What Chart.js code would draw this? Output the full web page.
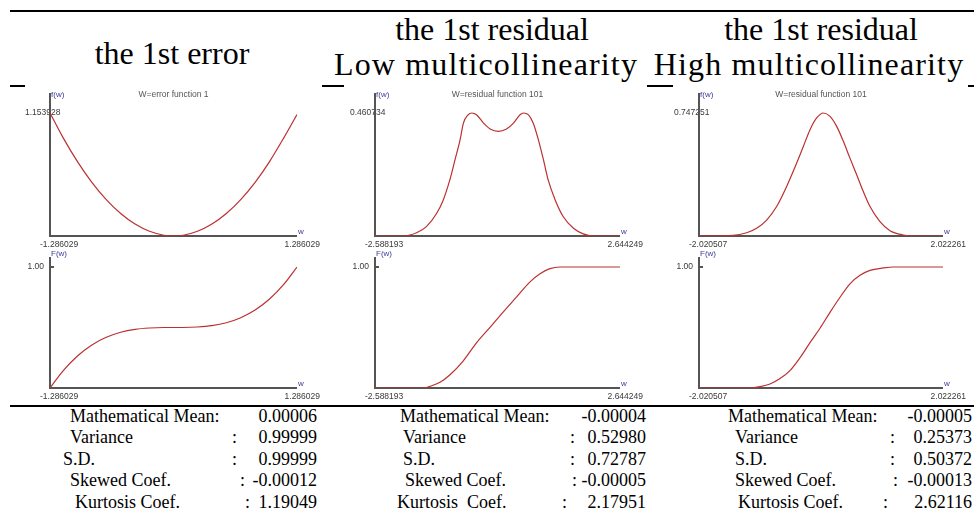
<!DOCTYPE html>
<html>
<head>
<meta charset="utf-8">
<script src="https://cdn.jsdelivr.net/npm/chart.js@4.4.1/dist/chart.umd.min.js"></script>
<style>
  html, body { margin: 0; padding: 0; background: #fff; }
  body { width: 974px; height: 513px; position: relative; overflow: hidden;
         font-family: "Liberation Serif", "Times New Roman", serif; color: #000; }
  .rule { position: absolute; left: 10px; width: 964px; height: 2px; background: #000; }
  .head { position: absolute; width: 400px; font-size: 32px; line-height: 35px;
          text-align: center; white-space: nowrap; }
  .head.wide { letter-spacing: 1.15px; }
  .panel { position: absolute; top: 84px; height: 321px; background: #fff; }
  .panel canvas { position: absolute; left: 0; }
  .stat { position: absolute; font-size: 18px; line-height: 18px; white-space: pre; }
</style>
</head>
<body>
<div class="rule" style="top:10px"></div>
<div class="rule" style="top:85px"></div>
<div class="rule" style="top:405px"></div>

<script>
// column headings
const headers = [
  ['the 1st error'],
  ['the 1st residual', 'Low multicollinearity'],
  ['the 1st residual', 'High multicollinearity']
];

// density f(w) and distribution F(w) per column
const pdfW1 = [-1.286029, -1.15, -1.0, -0.85, -0.7, -0.55, -0.4, -0.25, -0.1, 0, 0.1, 0.25, 0.4, 0.55, 0.7, 0.85, 1.0, 1.15, 1.286029];
const pdfF1 = [1.153928, 0.923, 0.698, 0.504, 0.342, 0.211, 0.112, 0.044, 0.007, 0, 0.007, 0.044, 0.112, 0.211, 0.342, 0.504, 0.698, 0.923, 1.14];
const cdfW1 = pdfW1;
const cdfF1 = [0, 0.142, 0.265, 0.356, 0.419, 0.461, 0.485, 0.496, 0.5, 0.5, 0.5, 0.504, 0.515, 0.539, 0.581, 0.644, 0.735, 0.858, 1.0];

const pdfW2 = [-2.588193, -1.98, -1.70, -1.49, -1.27, -1.13, -0.99, -0.88, -0.77, -0.70, -0.60, -0.52, -0.42, -0.27, -0.13, 0.05, 0.22, 0.37, 0.51, 0.58, 0.69, 0.79, 0.90, 1.01, 1.11, 1.26, 1.43, 1.65, 1.86, 2.07, 2.644249];
const pdfF2 = [0, 0, 0.012, 0.035, 0.085, 0.135, 0.210, 0.285, 0.361, 0.423, 0.454, 0.460734, 0.454, 0.423, 0.401, 0.392, 0.401, 0.423, 0.454, 0.460734, 0.454, 0.423, 0.361, 0.285, 0.210, 0.135, 0.073, 0.029, 0.008, 0, 0];
const cdfW2 = [-2.588193, -1.556, -1.413, -1.200, -0.986, -0.702, -0.417, -0.132, 0.153, 0.437, 0.722, 0.936, 1.149, 1.363, 1.576, 2.644249];
const cdfF2 = [0, 0, 0.014, 0.047, 0.110, 0.225, 0.375, 0.501, 0.630, 0.753, 0.877, 0.945, 0.986, 1.0, 1.0, 1.0];

const pdfW3 = [-2.020507, -1.452, -1.231, -1.065, -0.899, -0.734, -0.568, -0.402, -0.292, -0.181, -0.071, 0.040, 0.150, 0.261, 0.371, 0.481, 0.592, 0.702, 0.813, 0.978, 1.144, 1.365, 1.531, 2.022261];
const pdfF3 = [0, 0.004, 0.020, 0.047, 0.097, 0.179, 0.301, 0.443, 0.544, 0.646, 0.717, 0.747251, 0.727, 0.666, 0.575, 0.473, 0.372, 0.270, 0.179, 0.087, 0.032, 0.006, 0, 0];
const cdfW3 = [-2.020507, -1.176, -1.010, -0.844, -0.678, -0.513, -0.347, -0.181, -0.016, 0.150, 0.316, 0.481, 0.647, 0.813, 1.034, 1.199, 2.022261];
const cdfF3 = [0, 0, 0.011, 0.033, 0.078, 0.144, 0.25, 0.375, 0.494, 0.625, 0.75, 0.861, 0.931, 0.972, 0.992, 1.0, 1.0];

// axis end labels
const xTicks1 = ['-1.286029', '1.286029'];
const xTicks2 = ['-2.588193', '2.644249'];
const xTicks3 = ['-2.020507', '2.022261'];
const peakTicks = ['1.153928', '0.460734', '0.747251'];
const peakValues = [1.153928, 0.460734, 0.747251];
const plotTitles = ['W=error function 1', 'W=residual function 101', 'W=residual function 101'];

// moment table
const statLabels = ['Mathematical Mean:', 'Variance', 'S.D.', 'Skewed Coef.', 'Kurtosis Coef.'];
const statLabelsLow = ['Mathematical Mean:', 'Variance', 'S.D.', 'Skewed Coef.', 'Kurtosis  Coef.'];
const stats1 = ['0.00006', '0.99999', '0.99999', '-0.00012', '1.19049'];
const stats2 = ['-0.00004', '0.52980', '0.72787', '-0.00005', '2.17951'];
const stats3 = ['-0.00005', '0.25373', '0.50372', '-0.00013', '2.62116'];

// ---- layout ----
const columns = [
  { centers: [172], panel: [25, 322], axis: [50, 297],
    labelX: [70, 70, 63, 70, 75], colonX: [null, 232, 232, 240, 245], valueRight: 317 },
  { centers: [492, 486], panel: [344, 647], axis: [375, 620],
    labelX: [400, 403, 403, 405, 397], colonX: [null, 570, 570, 572, 562], valueRight: 646 },
  { centers: [821, 809], panel: [673, 968], axis: [699, 943],
    labelX: [728, 735, 735, 735, 738], colonX: [null, 890, 890, 893, 883], valueRight: 972 }
];
const headBaselines = [[64], [40, 75], [40, 75]];
const statBaselines = [422, 443.5, 465, 486.5, 508];

function addText(cls, text, left, top, extra) {
  const d = document.createElement('div');
  d.className = cls;
  d.textContent = text;
  d.style.left = left + 'px';
  d.style.top = top + 'px';
  if (extra) Object.assign(d.style, extra);
  document.body.appendChild(d);
  return d;
}

headers.forEach((lines, c) => {
  lines.forEach((t, i) => {
    const cls = i === 1 ? 'head wide' : 'head';
    addText(cls, t, columns[c].centers[i] - 200, headBaselines[c][i] - 28.3);
  });
});

[[statLabels, stats1], [statLabelsLow, stats2], [statLabels, stats3]].forEach(([labels, vals], c) => {
  const col = columns[c];
  labels.forEach((lab, r) => {
    const top = statBaselines[r] - 15.1;
    addText('stat', lab, col.labelX[r], top);
    if (col.colonX[r] !== null) addText('stat', ':', col.colonX[r], top);
    addText('stat', vals[r], 0, top, { left: 'auto', right: (974 - col.valueRight) + 'px' });
  });
});

// draws the axes and their labels by hand, so they sit where the plot tool put them
const axisPlugin = {
  id: 'handAxes',
  beforeDatasetsDraw(chart, args, o) {
    const { ctx, chartArea: a, scales: { y } } = chart;
    const sans = '"Liberation Sans", Arial, sans-serif';
    ctx.save();
    ctx.textBaseline = 'middle';

    ctx.fillStyle = '#3a3a3a';
    ctx.font = '8.5px ' + sans;
    ctx.textAlign = 'left';
    ctx.fillText(o.xTicks[0], a.left - 10, a.bottom + 9);
    ctx.textAlign = 'right';
    ctx.fillText(o.xTicks[1], a.right + 23, a.bottom + 9);

    const yTickPx = y.getPixelForValue(o.yValue);
    if (o.kind === 'pdf') {
      ctx.textAlign = 'left';
      ctx.fillText(o.yTick, a.left - 25, yTickPx);
      ctx.fillStyle = '#555';
      ctx.font = '8.5px ' + sans;
      ctx.textAlign = 'center';
      ctx.fillText(o.title, (a.left + a.right) / 2, a.top + 2);
    } else {
      ctx.textAlign = 'right';
      ctx.fillText(o.yTick, a.left - 6, yTickPx);
    }

    ctx.fillStyle = '#3a3a9a';
    ctx.font = '8px ' + sans;
    ctx.textAlign = 'left';
    if (o.kind === 'pdf') ctx.fillText('f(w)', a.left + 1, a.top + 2);
    else ctx.fillText('F(w)', a.left + 1, a.top - 3);
    ctx.fillText('w', a.right + 1, a.bottom - 4);

    ctx.strokeStyle = '#555';
    ctx.lineWidth = 2;
    ctx.beginPath();
    ctx.moveTo(a.left, a.top);
    ctx.lineTo(a.left, a.bottom);
    ctx.lineTo(a.right, a.bottom);
    ctx.stroke();
    if (o.kind === 'cdf') {
      ctx.beginPath();
      ctx.moveTo(a.left, yTickPx);
      ctx.lineTo(a.left + 4, yTickPx);
      ctx.stroke();
    }
    ctx.restore();
  }
};

function makePlot(panelEl, panelLeft, spec) {
  const cv = document.createElement('canvas');
  const w = columns[spec.col].panel[1] - panelLeft;
  cv.width = w;
  cv.height = spec.canvasH;
  cv.style.top = spec.canvasTop + 'px';
  panelEl.appendChild(cv);
  const ax = columns[spec.col].axis;
  const pts = spec.xs.map((x, i) => ({ x, y: spec.ys[i] }));
  return new Chart(cv, {
    type: 'line',
    data: { datasets: [{ data: pts, borderColor: '#bb3030', borderWidth: 1.2,
                         pointRadius: 0, cubicInterpolationMode: 'monotone', fill: false }] },
    options: {
      responsive: false,
      animation: false,
      events: [],
      layout: { padding: { left: ax[0] - panelLeft, right: w - (ax[1] - panelLeft),
                           top: spec.padTop, bottom: spec.padBottom } },
      scales: {
        x: { type: 'linear', display: false, min: spec.xs[0], max: spec.xs[spec.xs.length - 1] },
        y: { display: false, min: 0, max: spec.yMax }
      },
      plugins: {
        legend: { display: false },
        tooltip: { enabled: false },
        handAxes: spec.axisOpts
      }
    },
    plugins: [axisPlugin]
  });
}

const series = [
  [pdfW1, pdfF1, cdfW1, cdfF1, xTicks1],
  [pdfW2, pdfF2, cdfW2, cdfF2, xTicks2],
  [pdfW3, pdfF3, cdfW3, cdfF3, xTicks3]
];

series.forEach(([pw, pf, cw, cf, xt], c) => {
  const col = columns[c];
  const panel = document.createElement('div');
  panel.className = 'panel';
  panel.style.left = col.panel[0] + 'px';
  panel.style.width = (col.panel[1] - col.panel[0]) + 'px';
  document.body.appendChild(panel);

  // density: axis 93..236, peak drawn at y=113
  makePlot(panel, col.panel[0], {
    col: c, xs: pw, ys: pf, canvasTop: 0, canvasH: 166, padTop: 9, padBottom: 14,
    yMax: peakValues[c] * 143 / 123,
    axisOpts: { kind: 'pdf', xTicks: xt, yTick: peakTicks[c], yValue: peakValues[c], title: plotTitles[c] }
  });
  // distribution: axis 257..388, 1.00 at y=267
  makePlot(panel, col.panel[0], {
    col: c, xs: cw, ys: cf, canvasTop: 154, canvasH: 167, padTop: 19, padBottom: 17,
    yMax: 131 / 121,
    axisOpts: { kind: 'cdf', xTicks: xt, yTick: '1.00', yValue: 1 }
  });
});
</script>
</body>
</html>
